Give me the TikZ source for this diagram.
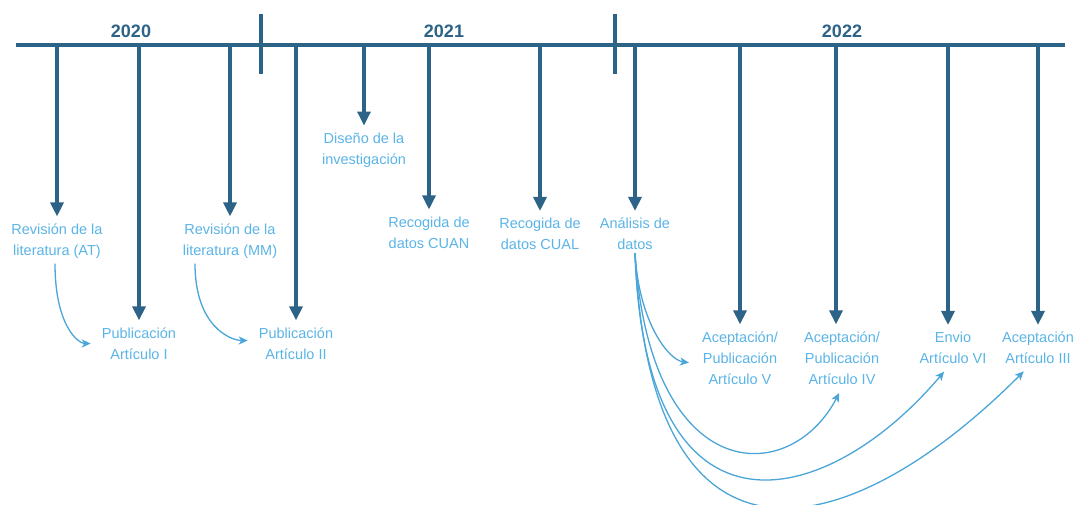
\documentclass[tikz,border=0pt]{standalone}
\usepackage{fontspec}
\setmainfont{Liberation Sans}
\usetikzlibrary{arrows.meta}
\definecolor{dk}{HTML}{2C6386}
\definecolor{lt}{HTML}{5AB4E6}
\definecolor{cv}{HTML}{4AA5D8}
\tikzset{
  axis/.style={draw=dk,line width=3.2pt},
  darr/.style={draw=dk,line width=3.2pt,-{Triangle[width=13pt,length=14pt]},shorten >=4pt},
  carr/.style={draw=cv,line width=1.3pt,-{Stealth[width=8pt,length=9pt,inset=2.5pt]}},
  lbl/.style={text=lt,font=\fontsize{14.5}{21}\selectfont,align=center,inner sep=3pt},
  yr/.style={text=dk,font=\fontsize{18}{20}\selectfont\bfseries,inner sep=0pt}
}
\begin{document}
\begin{tikzpicture}[x=1pt,y=-1pt]
\useasboundingbox (0,0) rectangle (1077,505);
% timeline
\coordinate (L) at (16,45);
\coordinate (R) at (1065,45);
\draw[axis] (L) -- (R);
\coordinate (d1a) at (261,14); \coordinate (d1b) at (261,74);
\coordinate (d2a) at (615,14); \coordinate (d2b) at (615,74);
\draw[axis] (d1a) -- (d1b);
\draw[axis] (d2a) -- (d2b);
\node[yr] (y20) at (131,31) {2020};
\node[yr] (y21) at (444,31) {2021};
\node[yr] (y22) at (842,31) {2022};
% timeline points
\foreach \n/\x in {t1/57,t2/139,t3/230,t4/296,t5/364,t6/429,t7/540,t8/635,t9/740,t10/836,t11/948,t12/1038}
  \coordinate (\n) at (\x,45);
% labels
\node[lbl] (rat) at (57,241) {Revisión de la\\literatura (AT)};
\node[lbl] (p1) at (139,343.5) {Publicación\\Artículo I};
\node[lbl] (rmm) at (230,241) {Revisión de la\\literatura (MM)};
\node[lbl] (p2) at (296,343.5) {Publicación\\Artículo II};
\node[lbl] (dis) at (364,150) {Diseño de la\\investigación};
\node[lbl] (cuan) at (429,232.5) {Recogida de\\datos CUAN};
\node[lbl] (cual) at (540,234) {Recogida de\\datos CUAL};
\node[lbl] (an) at (635,234) {Análisis de\\datos};
\node[lbl] (a5) at (740,358) {Aceptación/\\Publicación\\Artículo V};
\node[lbl] (a4) at (842,358) {Aceptación/\\Publicación\\Artículo IV};
\node[lbl] (a6) at (953,348) {Envio\\Artículo VI};
\node[lbl] (a3) at (1038,348) {Aceptación\\Artículo III};
% vertical arrows
\draw[darr] (t1) -- (t1 |- rat.north);
\draw[darr] (t2) -- (t2 |- p1.north);
\draw[darr] (t3) -- (t3 |- rmm.north);
\draw[darr] (t4) -- (t4 |- p2.north);
\draw[darr] (t5) -- (t5 |- dis.north);
\draw[darr] (t6) -- (t6 |- cuan.north);
\draw[darr] (t7) -- (t7 |- cual.north);
\draw[darr] (t8) -- (t8 |- an.north);
\draw[darr] (t9) -- (t9 |- a5.north);
\draw[darr] (t10) -- (t10 |- a4.north);
\draw[darr] (t11) -- (t11 |- a6.north);
\draw[darr] (t12) -- (t12 |- a3.north);
% curved arrows
\draw[carr,shorten <=2pt,shorten >=8pt] ([xshift=-2pt]rat.south) .. controls +(0,65) and +(-20,0) .. (p1.west);
\draw[carr,shorten <=2pt,shorten >=8pt] ([xshift=-35pt]rmm.south) .. controls +(0,65) and +(-25,0) .. ([yshift=3pt]p2.west);
\draw[carr,shorten >=10pt] (an.south) .. controls +(4,70) and +(-30,-4) .. ([yshift=-6pt]a5.west);
\draw[carr,shorten >=6pt] (an.south) .. controls +(15,235) and +(-52,100) .. (a4.south);
\draw[carr,shorten >=6pt] (an.south) .. controls +(10,305) and +(-120,142) .. ([xshift=-5pt]a6.south);
\draw[carr,shorten >=6pt] (an.south) .. controls +(15,345) and +(-178,178) .. ([xshift=-10pt]a3.south);
\end{tikzpicture}
\end{document}
